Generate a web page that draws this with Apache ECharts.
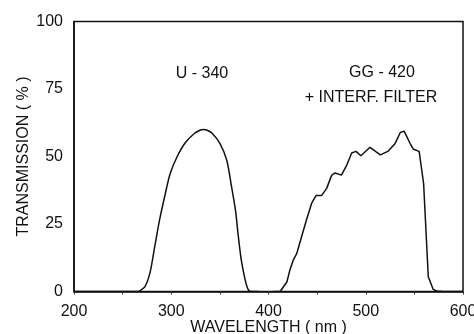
<!DOCTYPE html>
<html>
<head>
<meta charset="utf-8">
<script src="https://cdn.jsdelivr.net/npm/echarts@6/dist/echarts.min.js"></script>
<style>html,body{margin:0;padding:0;background:#fff;}#c{width:474px;height:334px;}</style>
</head>
<body>
<div id="c"></div>
<script>
// U-340 transmission curve (wavelength nm, transmission %)
const u340Wavelength = [200, 266, 268, 273, 278, 283, 288, 294, 299, 306, 314, 324, 330, 333, 337, 342, 350, 357, 362, 366, 369, 372, 376, 379, 382, 390];
const u340Transmission = [0, 0, 0.3, 1.8, 6.7, 16.6, 26.5, 36.4, 43.8, 49.9, 54.9, 58.6, 59.8, 60, 59.7, 58.6, 54.9, 48.7, 38.8, 30.2, 20.3, 11.7, 4.3, 0.8, 0, 0];

// GG-420 + interference filter transmission curve
const ggWavelength = [405, 412, 414, 419, 422, 425.5, 429, 434, 439, 444.4, 449, 454.7, 459.8, 465, 468.6, 475, 480.2, 485.5, 490, 495, 504.4, 515, 523.2, 530, 535.5, 539.5, 541, 545.5, 549, 554.9, 559.5, 564.3, 569.3, 573, 580, 600];
const ggTransmission = [0, 0, 0.4, 3.6, 8, 11.7, 14, 20.3, 26.5, 32.7, 35.6, 35.6, 38.2, 43.1, 43.9, 43.1, 46.6, 51.3, 51.9, 50.3, 53.4, 50.6, 52, 54.7, 58.9, 59.4, 59.6, 54.9, 52.7, 51.9, 40, 5.5, 0.8, 0.2, 0, 0];

const yTicks = [0, 25, 50, 75, 100];
const xTicks = [200, 300, 400, 500, 600];

const labels = [
  {text: 'U - 340', x: 202, y: 74},
  {text: 'GG - 420', x: 382, y: 73},
  {text: '+ INTERF. FILTER', x: 371, y: 98}
];

const font = 'Liberation Sans, Arial, sans-serif';
const chart = echarts.init(document.getElementById('c'));
chart.setOption({
  animation: false,
  grid: {left: 74, right: 11, top: 21.5, bottom: 42.5, outerBoundsMode: 'none', containLabel: false, show: true, borderColor: '#111', borderWidth: 1.5, backgroundColor: 'transparent'},
  xAxis: {
    type: 'value', min: xTicks[0], max: xTicks[xTicks.length - 1], interval: 100,
    name: 'WAVELENGTH ( nm )', nameLocation: 'middle', nameGap: 28, nameMoveOverlap: false,
    nameTextStyle: {fontFamily: font, fontSize: 16, color: '#111'},
    axisLine: {show: true, lineStyle: {color: '#111', width: 1.5}},
    axisTick: {show: true, length: 3, lineStyle: {color: '#333'}},
    minorTick: {show: true, splitNumber: 2, length: 3, lineStyle: {color: '#333'}},
    axisLabel: {fontFamily: font, fontSize: 16, color: '#111', margin: 12},
    splitLine: {show: false}
  },
  yAxis: {
    type: 'value', min: yTicks[0], max: yTicks[yTicks.length - 1], interval: 25,
    name: 'TRANSMISSION ( % )', nameLocation: 'middle', nameGap: 42, nameMoveOverlap: false,
    nameTextStyle: {fontFamily: font, fontSize: 16, color: '#111'},
    axisLine: {show: true, lineStyle: {color: '#111', width: 1.5}},
    axisTick: {show: false},
    axisLabel: {fontFamily: font, fontSize: 16, color: '#111', margin: 11},
    splitLine: {show: false}
  },
  series: [
    {
      type: 'line', name: 'U - 340', smooth: 0.3, symbol: 'none',
      lineStyle: {color: '#111', width: 1.5},
      data: u340Wavelength.map((w, i) => [w, u340Transmission[i]])
    },
    {
      type: 'line', name: 'GG - 420', smooth: false, symbol: 'none',
      lineStyle: {color: '#111', width: 1.5},
      data: ggWavelength.map((w, i) => [w, ggTransmission[i]])
    }
  ],
  graphic: labels.map(l => ({
    type: 'text', x: l.x, y: l.y,
    style: {text: l.text, fontFamily: font, fontSize: 16, fill: '#111', textAlign: 'center', textVerticalAlign: 'middle'}
  }))
});
</script>
</body>
</html>
